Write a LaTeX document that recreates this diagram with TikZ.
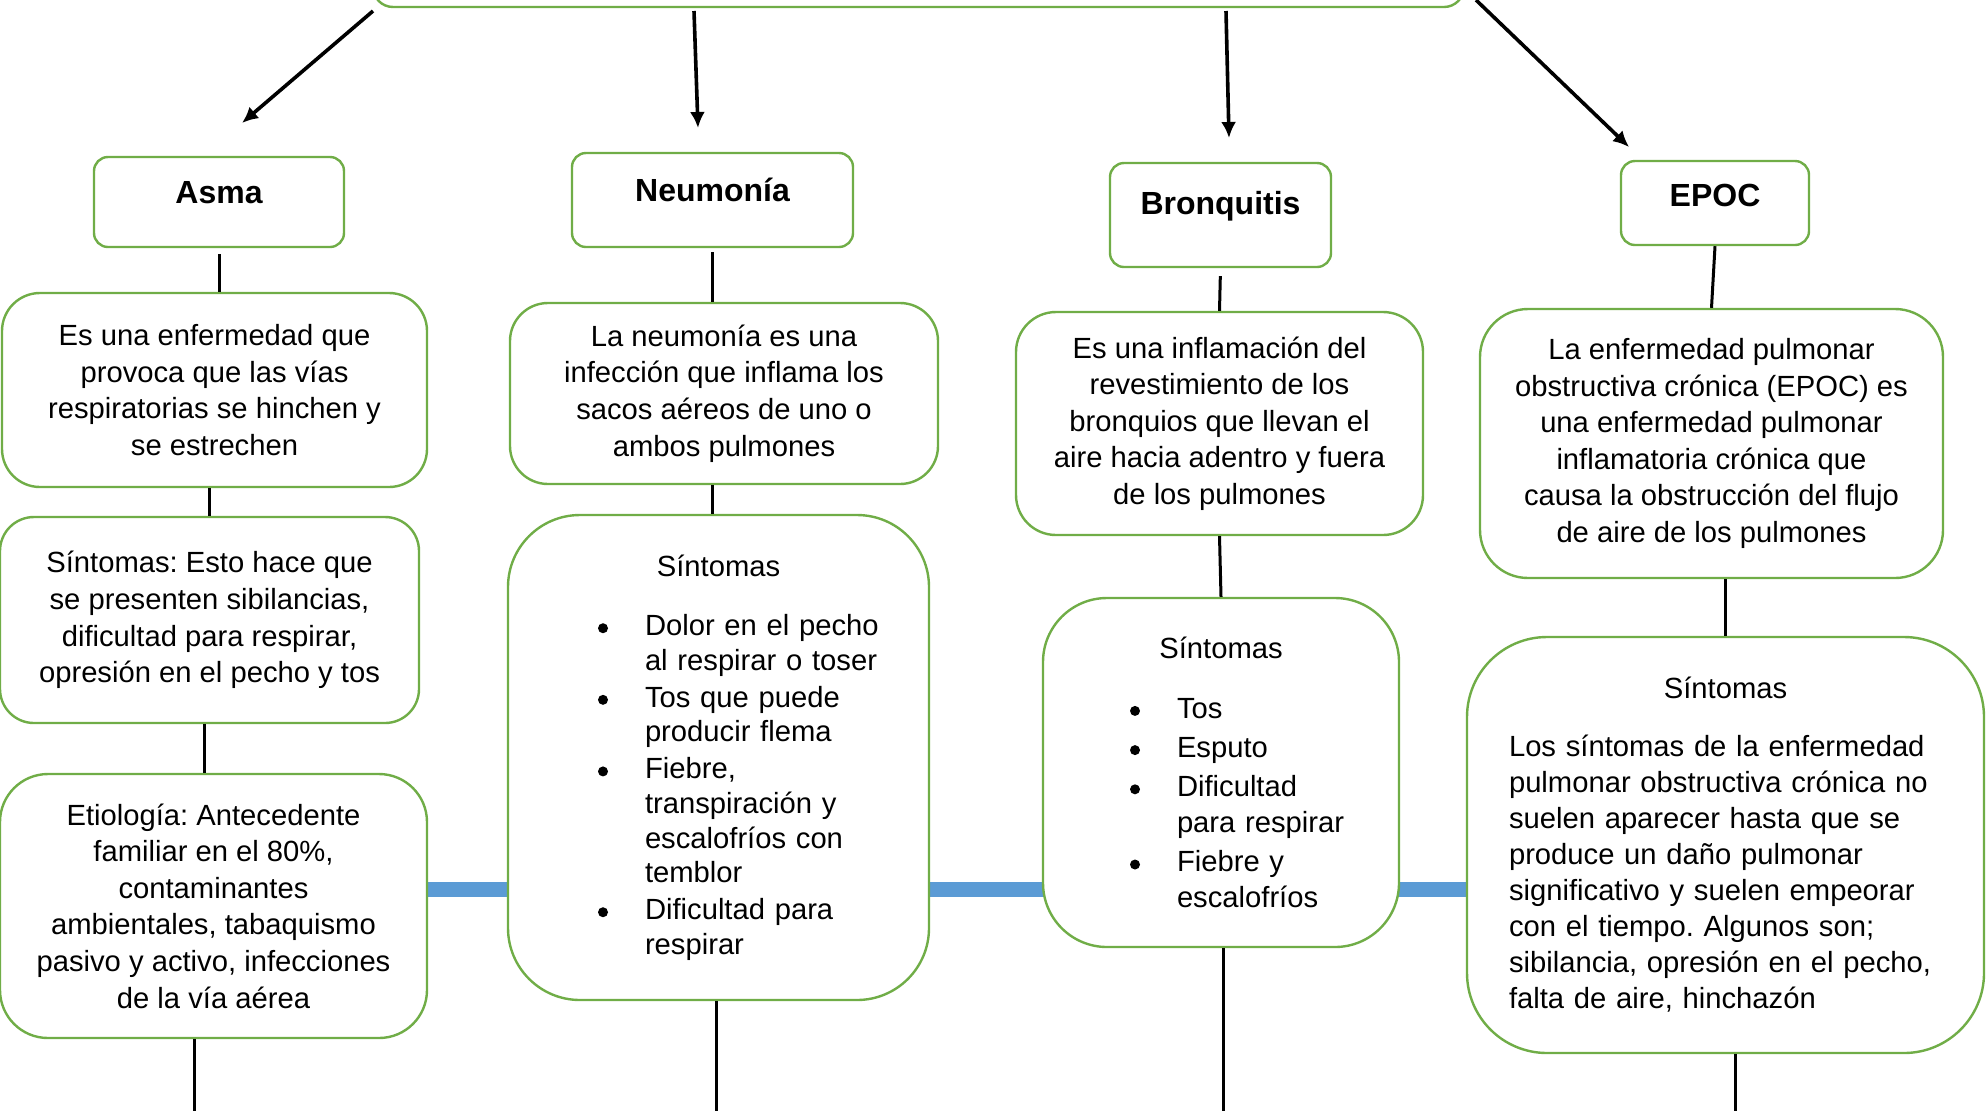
\documentclass[tikz,border=0pt]{standalone}
\usepackage{fontspec}
\setmainfont{Liberation Sans}
\usetikzlibrary{arrows.meta,backgrounds}
\definecolor{verdecaja}{HTML}{70AD47}
\definecolor{azulbanda}{HTML}{5B9BD5}
\tikzset{
  caja/.style={draw=verdecaja,line width=1.2pt,fill=white,rounded corners=#1,inner sep=0pt},
  caja/.default=20pt,
  titulo/.style={caja=7pt,font=\fontsize{16}{19}\selectfont\bfseries},
  texto/.style={caja=#1,align=center,font=\fontsize{14.6}{18.3}\selectfont},
  texto/.default=19pt,
  lista/.style={caja=#1,align=left,font=\fontsize{14.6}{17.3}\selectfont},
  flecha/.style={line width=1.8pt,-{Latex[length=8pt,width=7.5pt]}},
  linea/.style={line width=1.5pt},
  banda/.style={draw=azulbanda,line width=7.5pt},
}
\newcommand{\vineta}{\tikz[baseline=0pt]\fill (0pt,3.7pt) circle[radius=2.5pt];}
\newenvironment{vinetas}[2][1.2pt]{\begin{list}{\llap{\vineta}}{\setlength{\leftmargin}{#2}\setlength{\labelsep}{18.5pt}\setlength{\labelwidth}{0pt}\setlength{\itemsep}{#1}\setlength{\parsep}{0pt}\setlength{\topsep}{0pt}\setlength{\partopsep}{0pt}}}{\end{list}}
\begin{document}
\frenchspacing
\begin{tikzpicture}[x=0.5pt,y=-0.5pt]
\useasboundingbox (0,0) rectangle (1986,1110);
\clip (0,0) rectangle (1986,1110);
\node[caja=10pt,minimum width=545.5pt,minimum height=40pt] (raiz) at (918.5,-33) {};
\node[titulo,minimum width=125pt,minimum height=45pt,text depth=10pt] (asma) at (219,202) {Asma};
\node[titulo,minimum width=140.5pt,minimum height=47pt,text depth=10pt] (neu) at (712.5,200) {Neumonía};
\node[titulo,minimum width=110.5pt,minimum height=52pt,text depth=12pt] (bron) at (1220.5,215) {Bronquitis};
\node[titulo,minimum width=94pt,minimum height=42pt,text depth=8pt] (epoc) at (1715,203) {EPOC};
\node[texto,minimum width=212.5pt,minimum height=97pt] (asmadesc) at (214.5,390)
  {Es una enfermedad que\\provoca que las vías\\respiratorias se hinchen y\\se estrechen};
\node[texto,minimum width=214pt,minimum height=90.5pt] (neudesc) at (724,393.5)
  {La neumonía es una\\infección que inflama los\\sacos aéreos de uno o\\ambos pulmones};
\node[texto=20pt,minimum width=203.5pt,minimum height=111.5pt] (brondesc) at (1219.5,423.5)
  {Es una inflamación del\\revestimiento de los\\bronquios que llevan el\\aire hacia adentro y fuera\\de los pulmones};
\node[texto=24pt,minimum width=231.5pt,minimum height=134.5pt] (epocdesc) at (1711.5,443.5)
  {La enfermedad pulmonar\\obstructiva crónica (EPOC) es\\una enfermedad pulmonar\\inflamatoria crónica que\\causa la obstrucción del flujo\\de aire de los pulmones};
\node[texto=17pt,minimum width=209.5pt,minimum height=103pt] (asmasin) at (209.5,620)
  {Síntomas: Esto hace que\\se presenten sibilancias,\\dificultad para respirar,\\opresión en el pecho y tos};
\node[texto=24pt,minimum width=213.5pt,minimum height=132pt] (asmaetio) at (213.5,906)
  {Etiología: Antecedente\\familiar en el 80\%,\\contaminantes\\ambientales, tabaquismo\\pasivo y activo, infecciones\\de la vía aérea};
\node[lista=36pt,minimum width=210.5pt,text width=210.5pt,minimum height=242.5pt] (neusin) at (718.5,757.5)
  {{\centering Síntomas\par}\vspace{12.4pt}
   \begin{vinetas}{68.5pt}
   \item Dolor en el pecho\newline al respirar o toser
   \item Tos que puede\newline producir flema
   \item Fiebre,\newline transpiración y\newline escalofríos con\newline temblor
   \item Dificultad para\newline respirar
   \end{vinetas}};
\node[lista=32pt,minimum width=178pt,text width=178pt,minimum height=174.5pt,font=\fontsize{14.6}{18}\selectfont] (bronsin) at (1221,772.5)
  {{\centering Síntomas\par}\vspace{12pt}
   \begin{vinetas}[1.6pt]{67pt}
   \item Tos
   \item Esputo
   \item Dificultad\newline para respirar
   \item Fiebre y\newline escalofríos
   \end{vinetas}};
\node[lista=40pt,minimum width=258.5pt,text width=258.5pt,minimum height=208pt,font=\fontsize{14.6}{18}\selectfont] (epocsin) at (1725.5,845)
  {{\centering Síntomas\par}\vspace{11pt}
   {\leftskip=21pt Los síntomas de la enfermedad\\pulmonar obstructiva crónica no\\suelen aparecer hasta que se\\produce un daño pulmonar\\significativo y suelen empeorar\\con el tiempo. Algunos son;\\sibilancia, opresión en el pecho,\\falta de aire, hinchazón\par}};
\foreach \sx/\sy/\tx/\ty/\nm in {373/11/242/123/asma,694/11/698/128/neu,1226/11/1229/138/bron,1476/0/1629/147/epoc}{
  \coordinate (ini\nm) at (\sx,\sy);
  \coordinate (fin\nm) at (\tx,\ty);
  \draw[flecha] (ini\nm) -- (fin\nm);
}
\draw[linea,shorten <=3pt] (asma.south) -- (asma.south |- asmadesc.north);
\draw[linea] (asmadesc.south -| asmasin.north) -- (asmasin.north);
\draw[linea] ([xshift=-2.5pt]asmasin.south) -- ([xshift=-2.5pt]asmasin.south |- asmaetio.north);
\draw[linea,shorten <=2pt] (neu.south) -- (neu.south |- neudesc.north);
\draw[linea] (neudesc.south -| neu.south) -- (neusin.north -| neu.south);
\draw[linea,shorten <=4pt] (bron.south) -- (brondesc.north);
\draw[linea] (brondesc.south) -- (bronsin.north);
\draw[linea] (epoc.south) -- (epocdesc.north);
\draw[linea] (epocdesc.south -| epocsin.north) -- (epocsin.north);
\foreach \x/\nm in {194/asmaetio,716/neusin,1223/bronsin,1735/epocsin}{
  \coordinate (pie\nm) at (\x,1115);
  \draw[linea] (\nm.south -| pie\nm) -- (pie\nm);
}
\coordinate (nivelbanda) at (0,889);
\begin{scope}[on background layer]
\draw[banda] (asmaetio.east |- nivelbanda) -- (epocsin.west |- nivelbanda);
\end{scope}
\end{tikzpicture}
\end{document}
